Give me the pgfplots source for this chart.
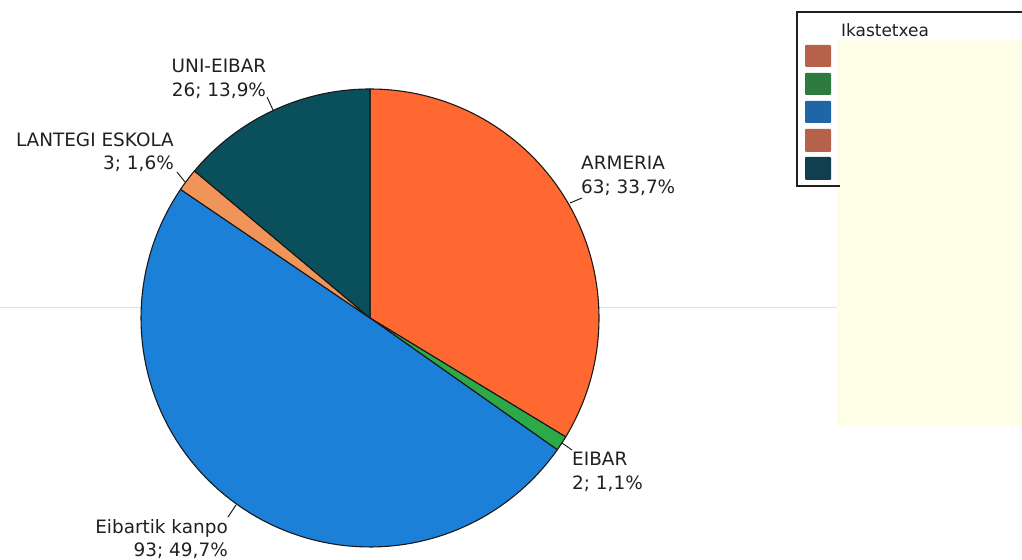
\documentclass[border=0pt]{standalone}
\usepackage{pgfplots}
\pgfplotsset{compat=1.18}
\usepackage{pgfplotstable}
\usepackage{fontspec}
\setmainfont{DejaVu Sans}
\definecolor{cArm}{RGB}{255,104,48}
\definecolor{cEib}{RGB}{44,170,72}
\definecolor{cKan}{RGB}{28,128,216}
\definecolor{cLan}{RGB}{240,148,90}
\definecolor{cUni}{RGB}{10,80,92}
\definecolor{lArm}{RGB}{182,98,74}
\definecolor{lEib}{RGB}{46,122,63}
\definecolor{lKan}{RGB}{31,102,166}
\definecolor{lUni}{RGB}{18,63,79}
\definecolor{txt}{RGB}{32,32,32}
\definecolor{yel}{RGB}{254,253,230}
% counts per school, clockwise from 12 o'clock
\pgfplotstableread{
name count
ARMERIA 63
EIBAR 2
Kanpo 93
Lantegi 3
Uni 26
}\pietable
\pgfplotstablegetelem{0}{count}\of\pietable \edef\vA{\pgfplotsretval}
\pgfplotstablegetelem{1}{count}\of\pietable \edef\vB{\pgfplotsretval}
\pgfplotstablegetelem{2}{count}\of\pietable \edef\vC{\pgfplotsretval}
\pgfplotstablegetelem{3}{count}\of\pietable \edef\vD{\pgfplotsretval}
\pgfplotstablegetelem{4}{count}\of\pietable \edef\vE{\pgfplotsretval}
\pgfmathsetmacro\tot{\vA+\vB+\vC+\vD+\vE}
\pgfmathsetmacro\aA{90}
\pgfmathsetmacro\aB{90-360*((\vA)/\tot)}
\pgfmathsetmacro\aC{90-360*((\vA+\vB)/\tot)}
\pgfmathsetmacro\aD{90-360*((\vA+\vB+\vC)/\tot)}
\pgfmathsetmacro\aE{90-360*((\vA+\vB+\vC+\vD)/\tot)}
\pgfmathsetmacro\aF{-270}
\def\cx{370}\def\cy{242}\def\R{229}
\newcommand{\slice}[3]{%
  \addplot[fill=#1, draw=black!90, line width=1.1pt, line join=round, domain=#3:#2, samples=90, variable=\t]
    ({\cx+\R*cos(\t)},{\cy+\R*sin(\t)}) -- (axis cs:\cx,\cy) -- cycle;}
\tikzset{lab/.style={font=\fontsize{18.5}{21.5}\selectfont, text=txt, inner sep=0pt}}
\begin{document}
\begin{tikzpicture}
\begin{axis}[
  scale only axis, width=1022bp, height=560bp,
  xmin=0, xmax=1022, ymin=0, ymax=560,
  hide axis, clip=true,
]
% faint scan line and highlight area
\draw[color=black!12, line width=1pt] (axis cs:0,252) -- (axis cs:838,252);
\fill[yel] (axis cs:837,135) rectangle (axis cs:1022,520);
% legend frame
\fill[white] (axis cs:797,374) rectangle (axis cs:837,548);
\fill[white] (axis cs:837,520) rectangle (axis cs:1022,548);
\draw[txt, line width=1.6pt] (axis cs:1022,548) -- (axis cs:797,548) -- (axis cs:797,374) -- (axis cs:840,374);
\node[lab, anchor=west, font=\fontsize{17}{20}\selectfont] at (axis cs:841,530) {Ikastetxea};
\fill[lArm, rounded corners=1pt] (axis cs:805,493) rectangle (axis cs:831,515);
\fill[lEib, rounded corners=1pt] (axis cs:805,465) rectangle (axis cs:831,487);
\fill[lKan, rounded corners=1pt] (axis cs:805,437) rectangle (axis cs:831,459);
\fill[lArm, rounded corners=1pt] (axis cs:805,408) rectangle (axis cs:831,431);
\fill[lUni, rounded corners=1pt] (axis cs:805,380) rectangle (axis cs:831,403);
% pie slices
\slice{cArm}{\aA}{\aB}
\slice{cEib}{\aB}{\aC}
\slice{cKan}{\aC}{\aD}
\slice{cLan}{\aD}{\aE}
\slice{cUni}{\aE}{\aF}
% labels
\draw[txt, line width=1pt] (axis cs:267,463) -- (axis cs:273,450);
\node[lab, align=center] at (axis cs:219,481) {UNI-EIBAR\\[2pt]26; 13,9\%};
\draw[txt, line width=1pt] (axis cs:177,388) -- (axis cs:185,378);
\node[lab, align=right, anchor=east] at (axis cs:174,408) {LANTEGI ESKOLA\\[2pt]3; 1,6\%};
\draw[txt, line width=1pt] (axis cs:582,362) -- (axis cs:570,357);
\node[lab, align=left, anchor=west] at (axis cs:581,384) {ARMERIA\\[2pt]63; 33,7\%};
\draw[txt, line width=1pt] (axis cs:562,117) -- (axis cs:572,110);
\node[lab, align=left, anchor=west] at (axis cs:572,88) {EIBAR\\[2pt]2; 1,1\%};
\draw[txt, line width=1pt] (axis cs:236,55) -- (axis cs:228,43);
\node[lab, align=right, anchor=east] at (axis cs:228,21) {Eibartik kanpo\\[2pt]93; 49,7\%};
\end{axis}
\pgfresetboundingbox
\path (current axis.south west) rectangle (current axis.north east);
\end{tikzpicture}
\end{document}
